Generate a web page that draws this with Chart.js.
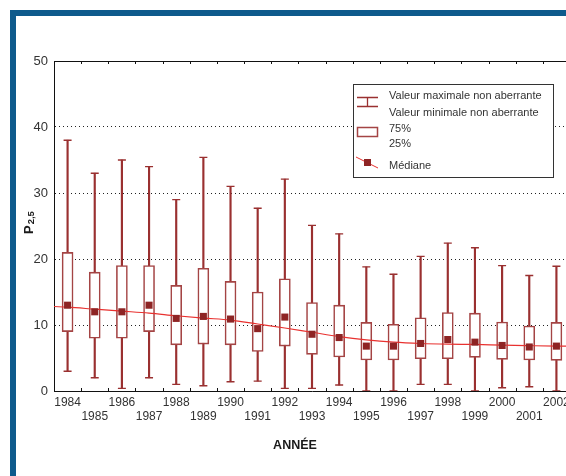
<!DOCTYPE html>
<html>
<head>
<meta charset="utf-8">
<script src="https://cdn.jsdelivr.net/npm/chart.js@4/dist/chart.umd.min.js"></script>
<style>
  html, body { margin: 0; padding: 0; background: #ffffff; overflow: hidden; }
  #frame {
    position: absolute; left: 10px; top: 10px; width: 700px; height: 600px;
    border-top: 6px solid #0e5a8c; border-left: 6px solid #0e5a8c;
  }
  #c { position: absolute; left: 0; top: 0; }
</style>
</head>
<body>
<div id="frame"></div>
<canvas id="c" width="590" height="476"></canvas>
<script>
// Years on the horizontal axis
const years = [1984, 1985, 1986, 1987, 1988, 1989, 1990, 1991, 1992, 1993,
               1994, 1995, 1996, 1997, 1998, 1999, 2000, 2001, 2002];

// Highest / lowest non-outlying values (whisker ends)
const whiskerMax = [38, 33, 35, 34, 29, 35.4, 31, 27.7, 32.1, 25.1,
                    23.8, 18.8, 17.7, 20.4, 22.4, 21.7, 19.0, 17.5, 18.9];
const whiskerMin = [3, 2, 0.4, 2, 1, 0.8, 1.4, 1.5, 0.4, 0.4,
                    0.9, 0, 0, 1.0, 1.0, 0, 0.5, 0.65, 0];

// Quartiles (box edges)
const q3 = [21, 18, 19, 19, 16, 18.6, 16.6, 15, 17, 13.4,
            13, 10.4, 10.1, 11.1, 11.9, 11.8, 10.45, 9.85, 10.4];
const q1 = [9, 8, 8, 9, 7, 7.1, 7, 6, 6.8, 5.55,
            5.15, 4.7, 4.7, 4.9, 4.9, 5.1, 4.8, 4.7, 4.65];

// Medians
const median = [13, 12, 12, 13, 11, 11.3, 10.9, 9.45, 11.2, 8.6,
                8.1, 6.8, 6.8, 7.2, 7.8, 7.4, 6.9, 6.67, 6.8];

// Smoothed median trend (year, value)
const trendYears = [1983.5, 1984, 1985, 1986, 1987, 1988, 1989, 1990, 1991, 1992, 1993,
                    1994, 1995, 1996, 1997, 1998, 1999, 2000, 2001, 2002, 2002.5];
const trendValues = [12.8, 12.7, 12.4, 12.1, 11.8, 11.4, 11.05, 10.75, 10.15, 9.55, 8.9,
                     8.25, 7.75, 7.4, 7.2, 7.1, 7.05, 6.95, 6.87, 6.8, 6.78];

// Y axis ticks
const yTicks = [0, 10, 20, 30, 40, 50];

const DARK_RED = '#8e2424';
const BOX_RED = '#a44444';
const WHISKER_RED = '#9a3030';
const TREND_RED = '#e8312f';
const FONT = "'Liberation Sans', Arial, sans-serif";

// Top frame line and inward tick marks between years
const frameTicks = {
  id: 'frameTicks',
  afterDraw(chart) {
    const {ctx, chartArea: a, scales: {x}} = chart;
    ctx.save();
    ctx.strokeStyle = '#111';
    ctx.lineWidth = 1;
    ctx.beginPath();
    ctx.moveTo(a.left, a.top + 0.5);
    ctx.lineTo(a.right, a.top + 0.5);
    for (let i = 0; i < years.length - 1; i++) {
      const px = Math.round((x.getPixelForValue(i) + x.getPixelForValue(i + 1)) / 2) + 0.5;
      ctx.moveTo(px, a.bottom);
      ctx.lineTo(px, a.bottom - 3);
      ctx.moveTo(px, a.top);
      ctx.lineTo(px, a.top + 3);
    }
    ctx.stroke();
    ctx.restore();
  }
};

// Axis titles: "P" with subscript "2,5" and "ANNÉE"
const axisTitles = {
  id: 'axisTitles',
  afterDraw(chart) {
    const {ctx} = chart;
    ctx.save();
    ctx.fillStyle = '#1a1a1a';
    ctx.textBaseline = 'alphabetic';
    ctx.textAlign = 'left';
    ctx.translate(32.5, 234);
    ctx.rotate(-Math.PI / 2);
    ctx.font = 'bold 13px ' + FONT;
    ctx.fillText('P', 0, 0);
    const pw = ctx.measureText('P').width;
    ctx.font = 'bold 9.5px ' + FONT;
    ctx.fillText('2,5', pw + 1, 1.5);
    ctx.restore();

    ctx.save();
    ctx.fillStyle = '#1a1a1a';
    ctx.font = 'bold 12.5px ' + FONT;
    ctx.textAlign = 'center';
    ctx.textBaseline = 'middle';
    ctx.fillText('ANNÉE', 295, 446);
    ctx.restore();
  }
};

// Key explaining the box symbols
const boxKey = {
  id: 'boxKey',
  afterDraw(chart) {
    const {ctx} = chart;
    ctx.save();
    ctx.fillStyle = '#ffffff';
    ctx.fillRect(353, 84, 200, 93);
    ctx.strokeStyle = '#333';
    ctx.lineWidth = 1;
    ctx.strokeRect(353.5, 84.5, 200, 93);

    // whisker symbol
    ctx.strokeStyle = WHISKER_RED;
    ctx.lineWidth = 1.3;
    ctx.beginPath();
    ctx.moveTo(357, 97.5); ctx.lineTo(378, 97.5);
    ctx.moveTo(357, 106.5); ctx.lineTo(378, 106.5);
    ctx.moveTo(367.5, 97.5); ctx.lineTo(367.5, 106.5);
    ctx.stroke();

    // box symbol
    ctx.strokeStyle = BOX_RED;
    ctx.lineWidth = 1.5;
    ctx.strokeRect(357.5, 127.5, 20, 9);

    // median symbol
    ctx.strokeStyle = TREND_RED;
    ctx.lineWidth = 1;
    ctx.beginPath();
    ctx.moveTo(356, 157); ctx.lineTo(378, 168);
    ctx.stroke();
    ctx.fillStyle = DARK_RED;
    ctx.fillRect(364, 159, 7, 7);

    ctx.fillStyle = '#333';
    ctx.font = '11px ' + FONT;
    ctx.textAlign = 'left';
    ctx.textBaseline = 'alphabetic';
    ctx.fillText('Valeur maximale non aberrante', 389, 99);
    ctx.fillText('Valeur minimale non aberrante', 389, 115.5);
    ctx.fillText('75%', 389, 131.5);
    ctx.fillText('25%', 389, 147);
    ctx.fillText('Médiane', 389, 169);
    ctx.restore();
  }
};

const labels = years.map(String);

new Chart(document.getElementById('c'), {
  data: {
    labels: labels,
    datasets: [
      {
        type: 'line',
        label: 'Médiane',
        data: median,
        showLine: false,
        pointStyle: 'rect',
        pointRadius: 5,
        pointBackgroundColor: DARK_RED,
        pointBorderColor: DARK_RED,
        pointBorderWidth: 0,
        order: 0
      },
      {
        type: 'line',
        label: 'Tendance',
        xAxisID: 'x2',
        data: trendYears.map((yr, i) => ({x: yr, y: trendValues[i]})),
        borderColor: TREND_RED,
        borderWidth: 1.2,
        pointRadius: 0,
        cubicInterpolationMode: 'monotone',
        fill: false,
        order: 1
      },
      {
        type: 'bar',
        label: '25% - 75%',
        data: q1.map((v, i) => [v, q3[i]]),
        backgroundColor: '#ffffff',
        borderColor: BOX_RED,
        borderWidth: 1.6,
        borderSkipped: false,
        barThickness: 11,
        grouped: false,
        order: 2
      },
      {
        type: 'line',
        label: 'Max',
        data: whiskerMax,
        showLine: false,
        pointStyle: 'line',
        pointRadius: 4,
        pointBorderColor: WHISKER_RED,
        pointBorderWidth: 1.4,
        order: 3
      },
      {
        type: 'line',
        label: 'Min',
        data: whiskerMin,
        showLine: false,
        pointStyle: 'line',
        pointRadius: 4,
        pointBorderColor: WHISKER_RED,
        pointBorderWidth: 1.4,
        order: 3
      },
      {
        type: 'bar',
        label: 'Étendue',
        data: whiskerMin.map((v, i) => [v, whiskerMax[i]]),
        backgroundColor: WHISKER_RED,
        borderWidth: 0,
        barThickness: 1.5,
        grouped: false,
        order: 4
      }
    ]
  },
  options: {
    responsive: false,
    devicePixelRatio: 1,
    animation: false,
    events: [],
    layout: { padding: { top: 61, right: 20, left: 0, bottom: 0 } },
    plugins: {
      legend: { display: false },
      tooltip: { enabled: false }
    },
    scales: {
      x: {
        type: 'category',
        position: 'bottom',
        offset: true,
        grid: { display: false, drawTicks: false },
        border: { display: true, color: '#111', width: 1 },
        ticks: {
          autoSkip: false,
          maxRotation: 0,
          minRotation: 0,
          padding: 4.5,
          color: '#333',
          font: { family: FONT, size: 12, lineHeight: '14px' },
          callback: (value, index) => index % 2 === 0 ? [labels[index], ''] : ['', labels[index]]
        },
        afterFit: (scale) => { scale.height = 85; }
      },
      x2: {
        type: 'linear',
        position: 'bottom',
        display: false,
        min: 1983.5,
        max: 2002.5
      },
      y: {
        type: 'linear',
        min: 0,
        max: 50,
        afterBuildTicks: (scale) => { scale.ticks = yTicks.map(v => ({value: v})); },
        grid: {
          drawTicks: false,
          lineWidth: 1,
          color: (ctx) => (ctx.tick && (ctx.tick.value === 0 || ctx.tick.value === 50)) ? 'rgba(0,0,0,0)' : '#222'
        },
        border: { display: true, color: '#111', width: 1, dash: [1, 3] },
        ticks: {
          padding: 6,
          color: '#333',
          font: { family: FONT, size: 13 }
        },
        afterFit: (scale) => { scale.width = 54; }
      }
    }
  },
  plugins: [frameTicks, boxKey, axisTitles]
});
</script>
</body>
</html>
